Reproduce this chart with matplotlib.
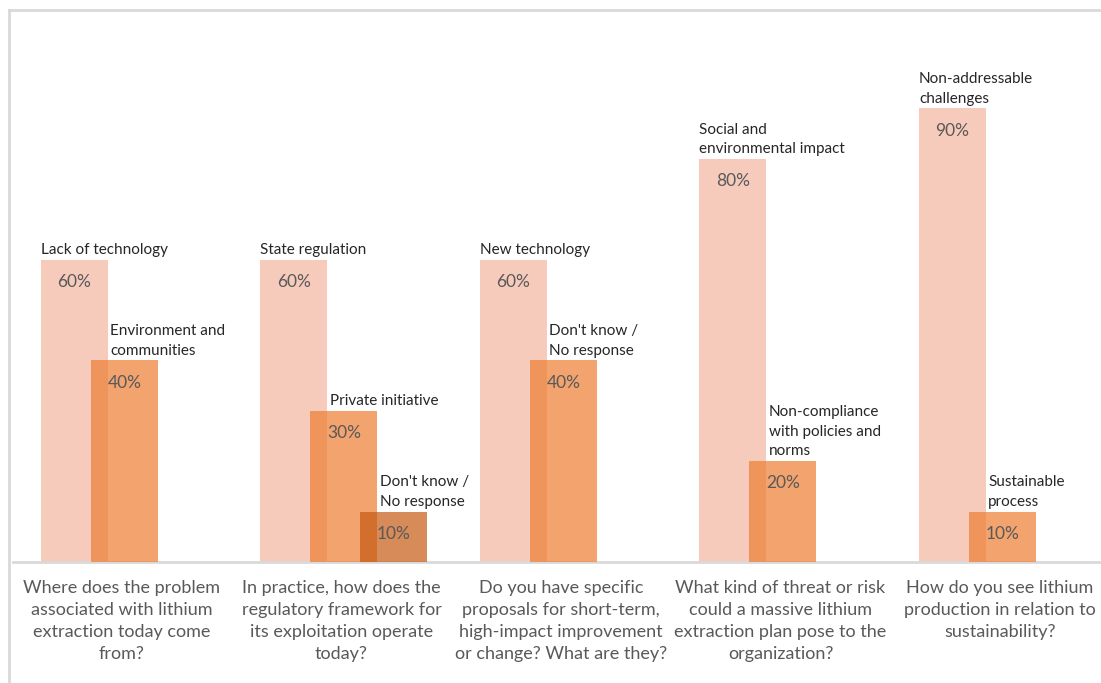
import numpy as np
import matplotlib
matplotlib.use("Agg")
import matplotlib.pyplot as plt
from matplotlib.lines import Line2D

plt.rcParams['font.family'] = ['Lato', 'DejaVu Sans']

# survey questions (x categories)
questions = [
    "Where does the problem\nassociated with lithium\nextraction today come\nfrom?",
    "In practice, how does the\nregulatory framework for\nits exploitation operate\ntoday?",
    "Do you have specific\nproposals for short-term,\nhigh-impact improvement\nor change? What are they?",
    "What kind of threat or risk\ncould a massive lithium\nextraction plan pose to the\norganization?",
    "How do you see lithium\nproduction in relation to\nsustainability?",
]

# answers per question and their share (%)
answers = [
    ["Lack of technology", "Environment and\ncommunities"],
    ["State regulation", "Private initiative", "Don't know /\nNo response"],
    ["New technology", "Don't know /\nNo response"],
    ["Social and\nenvironmental impact", "Non-compliance\nwith policies and\nnorms"],
    ["Non-addressable\nchallenges", "Sustainable\nprocess"],
]
shares = [
    [60, 40],
    [60, 30, 10],
    [60, 40],
    [80, 20],
    [90, 10],
]

colors = ['#F7CBBC', '#ED7D31', '#C55A11']
alphas = [1.0, 0.7, 0.7]
offsets = [-0.217, 0.011, 0.239]
width = 0.305

W, H = 1101, 683
fig = plt.figure(figsize=(W / 100, H / 100), dpi=100)
ax = fig.add_axes([13 / W, (H - 562) / H, (W - 13) / W, 550 / H])

for i in range(len(questions)):
    for j in range(len(shares[i])):
        x = i + offsets[j]
        v = shares[i][j]
        ax.bar(x, v, width=width, color=colors[j], alpha=alphas[j],
               linewidth=0, zorder=2 + j)
        # percent label inside bar
        ax.annotate("%d%%" % v, (x, v), xytext=(0, -16), textcoords='offset points',
                    ha='center', va='center', fontsize=12.5, color='#595959',
                    zorder=10)
        # answer label above bar
        dx = 0 if j == 0 else 0.087
        ax.annotate(answers[i][j], (x - width / 2 + dx, v), xytext=(0, 2),
                    textcoords='offset points', ha='left', va='bottom',
                    fontsize=11, color='#262626', linespacing=1.5, zorder=10)

ax.set_xlim(-(122 - 13) / 219.5, (W - 122) / 219.5)
ax.set_ylim(0, 550 / 5.04)
ax.set_xticks(range(len(questions)))
ax.set_xticklabels(questions, fontsize=13, color='#595959', linespacing=1.45)
ax.tick_params(axis='x', length=0, pad=13)
ax.set_yticks([])
for s in ['top', 'right', 'left']:
    ax.spines[s].set_visible(False)
ax.spines['bottom'].set_color('#D9D9D9')
ax.spines['bottom'].set_linewidth(2)

# outer frame (top and left edges)
fig.add_artist(Line2D([9 / W, 9 / W], [0, (H - 10) / H], color='#D9D9D9', lw=2))
fig.add_artist(Line2D([9 / W, 1], [(H - 10) / H, (H - 10) / H], color='#D9D9D9', lw=2))

fig.savefig("out.png", dpi=100)
